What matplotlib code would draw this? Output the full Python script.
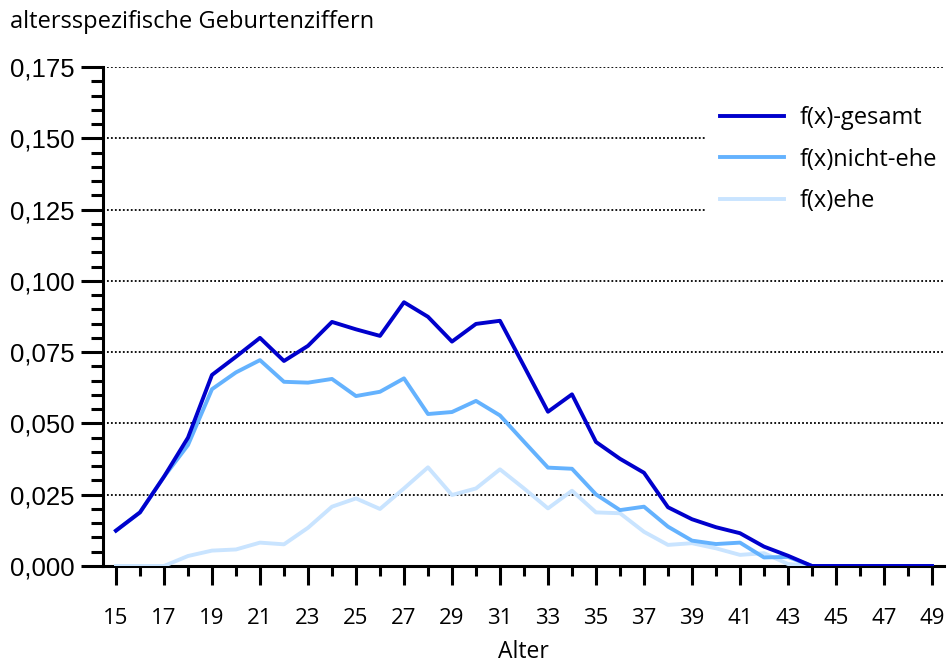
import numpy as np
import matplotlib.pyplot as plt
from matplotlib.ticker import MultipleLocator, FuncFormatter

# age-specific fertility rates, ages 15..49
alter = list(range(15, 50))
gesamt = [0.0124, 0.0188, 0.0313, 0.0450, 0.0670, 0.0734, 0.0800, 0.0719, 0.0772, 0.0856,
          0.0830, 0.0807, 0.0925, 0.0874, 0.0787, 0.0849, 0.0860, 0.0701, 0.0541, 0.0602,
          0.0435, 0.0376, 0.0327, 0.0206, 0.0164, 0.0136, 0.0115, 0.0068, 0.0036, 0.0,
          0.0, 0.0, 0.0, 0.0, 0.0]
nicht_ehe = [0.0124, 0.0188, 0.0313, 0.0424, 0.0620, 0.0679, 0.0722, 0.0646, 0.0643, 0.0656,
             0.0596, 0.0611, 0.0658, 0.0533, 0.0540, 0.0579, 0.0528, 0.0436, 0.0345, 0.0341,
             0.0251, 0.0196, 0.0208, 0.0138, 0.0089, 0.0077, 0.0082, 0.0030, 0.0032, 0.0,
             0.0, 0.0, 0.0, 0.0, 0.0]
ehe = [0.0, 0.0, 0.0, 0.0035, 0.0054, 0.0058, 0.0082, 0.0076, 0.0134, 0.0208,
       0.0237, 0.0200, 0.0272, 0.0346, 0.0249, 0.0272, 0.0339, 0.0272, 0.0202, 0.0264,
       0.0188, 0.0185, 0.0120, 0.0074, 0.0080, 0.0062, 0.0039, 0.0045, 0.0007, 0.0,
       0.0, 0.0, 0.0, 0.0, 0.0]

c_gesamt = '#0000cc'
c_nicht = '#64b2fe'
c_ehe = '#c9e4ff'

fig = plt.figure(figsize=(9.47, 6.63), dpi=100)
ax = fig.add_axes([103/947, 97/663, (944-103)/947, (566-67)/663])

ax.plot(alter, ehe, color=c_ehe, lw=2.8, label='f(x)ehe', zorder=3)
ax.plot(alter, nicht_ehe, color=c_nicht, lw=2.8, label='f(x)nicht-ehe', zorder=4)
ax.plot(alter, gesamt, color=c_gesamt, lw=2.8, label='f(x)-gesamt', zorder=5)

ax.set_xlim(14.46, 49.5)
ax.set_ylim(0, 0.175)

for side in ['top', 'right']:
    ax.spines[side].set_visible(False)
for side in ['left', 'bottom']:
    ax.spines[side].set_linewidth(2.2)

ax.yaxis.set_major_locator(MultipleLocator(0.025))
ax.yaxis.set_minor_locator(MultipleLocator(0.005))
ax.yaxis.set_major_formatter(FuncFormatter(lambda v, p: f'{v:.3f}'.replace('.', ',')))
ax.xaxis.set_minor_locator(MultipleLocator(1))
ax.set_xticks(range(15, 50, 2))

ax.tick_params(axis='y', which='major', length=15.5, width=2.2, pad=5,
               labelsize=18.5, labelfontfamily='Liberation Sans')
ax.tick_params(axis='y', which='minor', length=8.5, width=2.2)
ax.tick_params(axis='x', which='major', length=14, width=2.2, pad=16,
               labelsize=16, labelfontfamily='Open Sans')
ax.tick_params(axis='x', which='minor', length=7, width=2.2)

ax.grid(axis='y', which='major', color='black', linestyle=(0, (1, 1.2)), lw=1.3, zorder=1)
ax.set_axisbelow(True)

ax.set_xlabel('Alter', fontsize=16.5, family='Open Sans', labelpad=8)
fig.text(10/947, 1 - 22/663, 'altersspezifische Geburtenziffern', fontsize=17,
         family='Open Sans', va='center', ha='left')

handles, labels = ax.get_legend_handles_labels()
leg = ax.legend(handles[::-1], labels[::-1], loc='upper left',
                bbox_to_anchor=(705/947, 1 - 91/663), bbox_transform=fig.transFigure,
                frameon=True, facecolor='white', edgecolor='none', framealpha=1,
                fancybox=False, prop={'family': 'Open Sans', 'size': 17},
                handlelength=2.7, handletextpad=0.65, labelspacing=0.73,
                borderpad=0.65, borderaxespad=0)
leg.set_zorder(6)
for line in leg.get_lines():
    line.set_linewidth(2.8)

fig.savefig('out.png', dpi=100)
